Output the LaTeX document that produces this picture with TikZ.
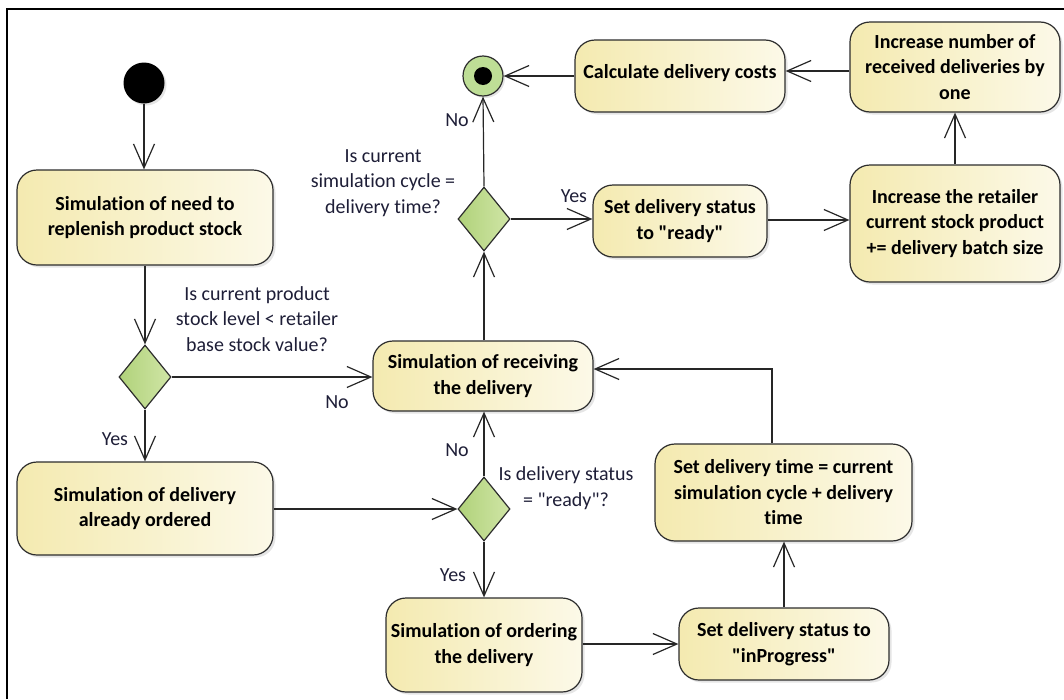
\documentclass[tikz,border=0pt]{standalone}
\usepackage{fontspec}
\setmainfont{Carlito}[Ligatures={TeXOff,NoCommon}]
\usetikzlibrary{arrows.meta,shapes.geometric,shadows,calc}
\definecolor{boxL}{RGB}{244,234,176}
\definecolor{boxR}{RGB}{252,249,232}
\definecolor{dL}{RGB}{176,210,122}
\definecolor{dR}{RGB}{208,229,166}
\definecolor{edge}{RGB}{45,45,45}
\definecolor{endgreen}{RGB}{190,222,150}
\definecolor{lbltext}{RGB}{30,30,55}
\newcommand{\qmark}{\char"0022\relax}
\begin{document}
\begin{tikzpicture}[x=1pt,y=-1pt,
  act/.style={draw=edge, line width=1.2pt, rounded corners=20pt, left color=boxL, right color=boxR,
    align=center, font=\fontsize{20}{25.5}\selectfont\bfseries, inner sep=0pt,
    drop shadow={shadow xshift=2.5pt,shadow yshift=-2.5pt,fill=black!20}},
  dec/.style={diamond, draw=edge, line width=1.2pt, left color=dL, right color=dR,
    minimum width=52pt, minimum height=64pt, inner sep=0pt},
  lbl/.style={align=center, font=\fontsize{20}{25.5}\selectfont, text=lbltext},
  arr/.style={draw=black!85, line width=1.2pt, -{Straight Barb[length=24pt,width=21pt]}},
]
\useasboundingbox (0,0) rectangle (1064,699);
\draw[line width=2pt] (7,699) -- (7,9) -- (1064,9);

% nodes
\node[circle, fill=black, minimum size=41pt, inner sep=0pt,
  drop shadow={shadow xshift=2pt,shadow yshift=-2pt,fill=black!20}] (start) at (144,83) {};
\node[act, minimum width=256pt, minimum height=95pt] (A) at (145,217.5) {Simulation of need to\\replenish product stock};
\node[dec] (D1) at (145,377) {};
\node[act, minimum width=256pt, minimum height=93pt] (B) at (145,508.5) {Simulation of delivery\\already ordered};
\node[act, minimum width=220pt, minimum height=70pt] (R) at (483,376) {Simulation of receiving\\the delivery};
\node[dec] (D2) at (484,509) {};
\node[act, minimum width=196pt, minimum height=94pt] (O) at (484,645) {Simulation of ordering\\the delivery};
\node[act, minimum width=210pt, minimum height=72pt] (S) at (784,644) {Set delivery status to\\\qmark inProgress\qmark};
\node[act, minimum width=257pt, minimum height=97pt] (T) at (783.5,492.5) {Set delivery time = current\\simulation cycle + delivery\\time};
\node[dec] (D3) at (484,219) {};
\node[circle, draw=edge, line width=1.2pt, fill=endgreen, minimum size=40pt, inner sep=0pt,
  drop shadow={shadow xshift=2pt,shadow yshift=-2pt,fill=black!20}] (end) at (483,76) {};
\node[circle, fill=black, minimum size=18pt, inner sep=0pt] (enddot) at (end) {};
\node[act, minimum width=174pt, minimum height=72pt] (SR) at (680,221) {Set delivery status\\to \qmark ready\qmark};
\node[act, minimum width=210pt, minimum height=117pt] (IR) at (955,223.5) {Increase the retailer\\current stock product\\+= delivery batch size};
\node[act, minimum width=210pt, minimum height=90pt] (IN) at (955,67) {Increase number of\\received deliveries by\\one};
\node[act, minimum width=210pt, minimum height=72pt, text depth=10pt] (C) at (680,76) {Calculate delivery costs};

% labels
\node[lbl] (q1) at (257,319) {Is current product\\stock level < retailer\\base stock value?};
\node[lbl] (no1) at (337,402) {No};
\node[lbl] (yes1) at (115,439) {Yes};
\node[lbl] (q2) at (566,488) {Is delivery status\\= \qmark ready\qmark ?};
\node[lbl] (no2) at (457,450) {No};
\node[lbl] (yes2) at (453,575) {Yes};
\node[lbl] (q3) at (383,183) {Is current\\simulation cycle =\\delivery time?};
\node[lbl] (no3) at (457,120) {No};
\node[lbl] (yes3) at (574,196) {Yes};

% connectors
\coordinate (tr) at (772,369);
\coordinate (cl) at (0,71);
\draw[arr] (start) -- (start |- A.north);
\draw[arr] (A) -- (D1.north);
\draw[arr] (D1.east) -- (D1.east -| R.west);
\draw[arr] (D1.south) -- (B.north);
\draw[arr] (B.east |- D2) -- (D2.west);
\draw[arr] (D2.north) -- (D2.north |- R.south);
\draw[arr] (D2.south) -- (D2.south |- O.north);
\draw[arr] (O.east |- S) -- (S.west);
\draw[arr] (S.north) -- (S.north |- T.south);
\draw[arr] (tr |- T.north) -- (tr) -- (tr -| R.east);
\draw[arr] (R.north -| D3) -- (D3.south);
\draw[arr] (D3.north) -- (end.south);
\draw[arr] (D3.east) -- (D3.east -| SR.west);
\draw[arr] (SR.east |- 0,220) -- (IR.west |- 0,220);
\draw[arr] (IR.north) -- (IN.south);
\draw[arr] (IN.west |- cl) -- (C.east |- cl);
\draw[arr] (C.west) -- (end.east);
\end{tikzpicture}
\end{document}
